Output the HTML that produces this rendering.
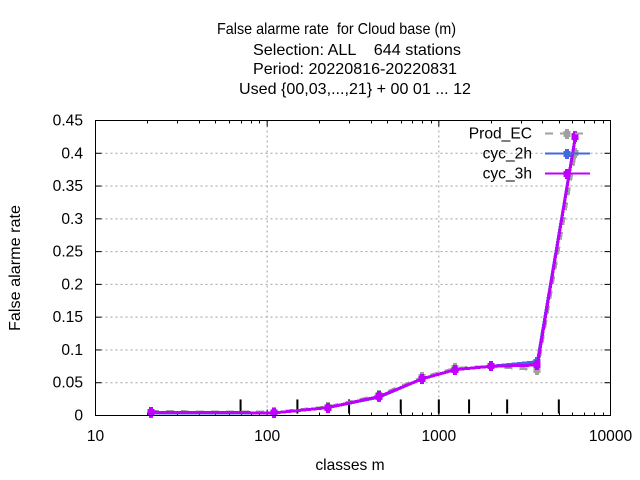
<!DOCTYPE html>
<html>
<head>
<meta charset="utf-8">
<title>False alarme rate for Cloud base</title>
<style>
html,body{margin:0;padding:0;background:#fff}
svg{display:block}
text{font-family:"Liberation Sans",sans-serif;font-size:15.6px;fill:#000}
</style>
</head>
<body>
<svg id="chart" width="640" height="480" viewBox="0 0 640 480" xmlns="http://www.w3.org/2000/svg">
<rect x="0" y="0" width="640" height="480" fill="#fff"/>
<g id="chart-title-group">
<text x="217" y="34" textLength="239" lengthAdjust="spacingAndGlyphs" xml:space="preserve">False alarme rate  for Cloud base (m)</text>
<text x="253" y="55" textLength="208" lengthAdjust="spacingAndGlyphs" xml:space="preserve">Selection: ALL    644 stations</text>
<text x="253" y="74" textLength="204" lengthAdjust="spacingAndGlyphs">Period: 20220816-20220831</text>
<text x="239" y="94" textLength="232" lengthAdjust="spacingAndGlyphs">Used {00,03,...,21} + 00 01 ... 12</text>
</g>
<text x="350" y="470" text-anchor="middle">classes m</text>
<text x="0" y="0" text-anchor="middle" textLength="126" lengthAdjust="spacingAndGlyphs" transform="translate(20,268) rotate(-90)">False alarme rate</text>
<g id="grid"></g>
<g id="ticks"></g>
<g id="labels"></g>
<g id="impulses"></g>
<g id="series"></g>
<rect x="95.5" y="120.5" width="515" height="295" fill="none" stroke="#000" stroke-width="1"/>
<g id="legend"></g>
</svg>
<script>
var classes = [21, 110, 225, 450, 800, 1250, 2000, 3750, 6250];
var prodEC = [0.006, 0.005, 0.013, 0.031, 0.058, 0.072, 0.075, 0.070, 0.401];
var cyc2h = [0.004, 0.004, 0.012, 0.028, 0.056, 0.070, 0.075, 0.082, 0.426];
var cyc3h = [0.005, 0.004, 0.012, 0.029, 0.056, 0.070, 0.075, 0.077, 0.425];
var thresholds = [70, 150, 300, 600, 1000, 1500, 2500, 5000];
var thresholdLow = 0.003;
var thresholdHigh = 0.0245;
var yTicks = [0, 0.05, 0.1, 0.15, 0.2, 0.25, 0.3, 0.35, 0.4, 0.45];
var yTickLabels = ['0', '0.05', '0.1', '0.15', '0.2', '0.25', '0.3', '0.35', '0.4', '0.45'];
var xTicks = [10, 100, 1000, 10000];
var xTickLabels = ['10', '100', '1000', '10000'];
var seriesNames = ['Prod_EC', 'cyc_2h', 'cyc_3h'];
var seriesColors = ['#a0a0a0', '#4169e1', '#c000ff'];
var seriesData = [prodEC, cyc2h, cyc3h];

var NS = 'http://www.w3.org/2000/svg';
var L = 95.5, R = 610.5, T = 120.5, B = 415.5;
function xScale(v) { return L + (R - L) * (Math.log10(v) - 1) / 3; }
function yScale(v) { return B - (B - T) * v / 0.45; }
function make(tag, parent, attrs) {
  var el = document.createElementNS(NS, tag);
  for (var k in attrs) el.setAttribute(k, attrs[k]);
  document.getElementById(parent).appendChild(el);
  return el;
}
function marker(parent, cx, cy, color) {
  var x = Math.round(cx), y = Math.round(cy);
  var el = make('path', parent, {
    d: 'M' + (x - 2) + ' ' + (y - 5) + 'h4v2h1.5v6h-1.5v2h-4v-2h-1.5v-6h1.5z',
    fill: color
  });
  return el;
}

yTicks.forEach(function (v, i) {
  var y = yScale(v);
  if (v > 0 && v < 0.45) {
    var g = make('line', 'grid', { x1: L, x2: R, y1: y, y2: y, stroke: '#a0a0a0', 'stroke-width': 1, 'stroke-dasharray': '2 3' });
    
    
  }
  var t1 = make('line', 'ticks', { x1: L, x2: L + 6, y1: y, y2: y, stroke: '#000' });
  
  
  var t2 = make('line', 'ticks', { x1: R - 6, x2: R, y1: y, y2: y, stroke: '#000' });
  
  
  var lb = make('text', 'labels', { x: 83, y: y + 5, 'text-anchor': 'end' });
  lb.textContent = yTickLabels[i];
  
  
});

xTicks.forEach(function (v, i) {
  var x = xScale(v);
  if (v > 10 && v < 10000) {
    var g = make('line', 'grid', { x1: x, x2: x, y1: T, y2: B, stroke: '#a0a0a0', 'stroke-width': 1, 'stroke-dasharray': '2 3' });
    
    
  }
  var t1 = make('line', 'ticks', { x1: x, x2: x, y1: B - 6, y2: B, stroke: '#000' });
  
  
  var t2 = make('line', 'ticks', { x1: x, x2: x, y1: T, y2: T + 6, stroke: '#000' });
  
  
  var lb = make('text', 'labels', { x: x, y: 441, 'text-anchor': 'middle' });
  lb.textContent = xTickLabels[i];
  
  
  if (v < 10000) {
    for (var m = 2; m <= 9; m++) {
      var mx = Math.round(xScale(v * m)) + 0.5;
      var a = make('line', 'ticks', { x1: mx, x2: mx, y1: B - 3, y2: B, stroke: '#000' });
      
      
      var b = make('line', 'ticks', { x1: mx, x2: mx, y1: T, y2: T + 3, stroke: '#000' });
      
      
    }
  }
});

thresholds.forEach(function (v) {
  var x = xScale(v);
  var imp = make('line', 'impulses', { x1: x, x2: x, y1: yScale(thresholdHigh), y2: yScale(thresholdLow), stroke: '#000', 'stroke-width': 2 });
  
  
});

seriesData.forEach(function (vals, s) {
  var pts = vals.map(function (v, i) { return xScale(classes[i]) + ',' + yScale(v); }).join(' ');
  var line = make('polyline', 'series', { points: pts, fill: 'none', stroke: seriesColors[s], 'stroke-width': 3, 'shape-rendering': 'crispEdges' });
  if (s === 0) line.setAttribute('stroke-dasharray', '8 7');
  
  
  vals.forEach(function (v, i) {
    var p = marker('series', xScale(classes[i]), yScale(v), seriesColors[s]);
    
    
  });
  var ly = 133.5 + s * 20;
  var lt = make('text', 'legend', { x: 532, y: ly + 5, 'text-anchor': 'end' });
  lt.textContent = seriesNames[s];
  
  
  var ls = make('line', 'legend', { x1: 545, x2: 590, y1: ly, y2: ly, stroke: seriesColors[s], 'stroke-width': 2 });
  if (s === 0) ls.setAttribute('stroke-dasharray', '8 7');
  
  
  var lm = marker('legend', 567, ly, seriesColors[s]);
  
  
});
</script>
</body>
</html>
